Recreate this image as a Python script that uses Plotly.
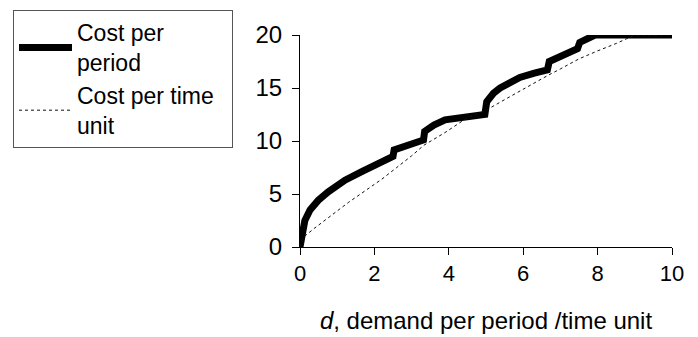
import plotly.graph_objects as go

# Cost per period (thick line)
period_d = [0, 0.05, 0.13, 0.27, 0.49, 0.76, 1.21, 1.66, 2.02, 2.37, 2.50, 2.53, 2.90, 3.32,
            3.35, 3.60, 3.90, 4.40, 4.97, 5.02, 5.20, 5.38, 5.91, 6.30, 6.65, 6.70, 7.08,
            7.46, 7.52, 7.75, 7.93, 10.0]
period_cost = [0, 1.3, 2.5, 3.5, 4.4, 5.2, 6.3, 7.1, 7.7, 8.3, 8.55, 9.15, 9.6, 10.1,
               10.9, 11.5, 12.0, 12.3, 12.5, 13.7, 14.5, 15.0, 16.0, 16.4, 16.7, 17.5, 18.1,
               18.7, 19.3, 19.7, 20.0, 20.0]

# Cost per time unit (thin dotted line)
time_d = [0, 0.08, 0.4, 0.85, 1.3, 1.75, 2.2, 2.6, 3.0, 3.33, 3.9, 4.5, 5.0, 5.5, 6.0,
          6.5, 6.67, 7.0, 7.5, 8.0, 8.5, 9.0, 10.0]
time_cost = [0, 0.9, 1.8, 3.0, 4.2, 5.3, 6.4, 7.5, 8.6, 9.6, 10.8, 12.2, 12.9, 13.9, 14.9,
             15.85, 16.2, 16.8, 17.75, 18.5, 19.2, 20.0, 20.0]

x_ticks = [0, 2, 4, 6, 8, 10]
y_ticks = [0, 5, 10, 15, 20]

FONT = "Liberation Sans, Arial, sans-serif"

fig = go.Figure()
fig.add_trace(go.Scatter(x=period_d, y=period_cost, mode="lines",
                         name="Cost per<br>period",
                         line=dict(color="black", width=7)))
fig.add_trace(go.Scatter(x=time_d, y=time_cost, mode="lines",
                         name="Cost per time\u00a0\u00a0<br>unit",
                         line=dict(color="#111111", width=1, dash="dot")))

# page body adds an 8px margin, so the figure is 8px smaller and shifted
fig.update_layout(
    width=690, height=329,
    margin=dict(l=292, r=26, t=27, b=90, autoexpand=False),
    paper_bgcolor="white", plot_bgcolor="white",
    font=dict(family=FONT, size=22, color="black"),
    showlegend=True,
    legend=dict(x=-0.7715, y=1.118, xanchor="left", yanchor="top",
                bordercolor="#555555", borderwidth=1, bgcolor="white",
                font=dict(family=FONT, size=23, color="black"),
                itemwidth=53, tracegroupgap=4),
)
fig.update_xaxes(range=[0, 10], tickvals=x_ticks, showgrid=False, zeroline=False,
                 showline=True, linecolor="black", linewidth=1,
                 ticks="outside", ticklen=7, tickcolor="black",
                 tickfont=dict(family=FONT, size=22),
                 title=dict(text="<i>d</i>, demand per period /time unit", standoff=26,
                            font=dict(family=FONT, size=24)))
fig.update_yaxes(range=[0, 20], tickvals=y_ticks, showgrid=False, zeroline=False,
                 showline=True, linecolor="black", linewidth=1,
                 ticks="outside", ticklen=7, tickcolor="black",
                 tickfont=dict(family=FONT, size=24), ticklabelstandoff=5)

fig.write_html("out.html")
